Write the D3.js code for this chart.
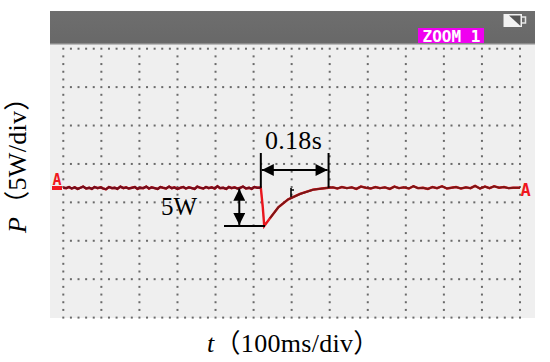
<!DOCTYPE html>
<html><head><meta charset="utf-8">
<script src="https://cdn.jsdelivr.net/npm/d3@7"></script>
<style>html,body{margin:0;padding:0;background:#fff}svg{display:block}text{font-family:"Liberation Serif","Times New Roman",serif;fill:#000}</style>
</head><body><div id="c"></div>
<script>
const xTicksMs = [0,100,200,300,400,500,600,700,800,900,1000,1100,1200];
const yTicksW = [0,5,10,15,20,25,30,35];
const timeMs = [0,8,15,22,30,38,45,52,60,68,75,82,90,98,105,112,120,128,135,142,150,158,165,172,180,188,195,202,210,218,225,232,240,248,255,262,270,278,285,292,300,308,315,322,330,338,345,352,360,368,375,382,390,398,405,412,420,428,435,442,450,458,465,472,480,488,495,502,510,519,524,528,543,565,591,622,656,680,697,708,720,732,745,758,770,782,795,808,820,832,845,858,870,882,895,908,920,932,945,958,970,982,995,1008,1020,1032,1045,1058,1070,1082,1095,1108,1120,1132,1145,1158,1170,1182,1200];
const powerW = [16.9,16.85,17,16.8,16.95,16.75,16.9,17.05,16.8,16.9,16.75,17,16.85,16.95,16.8,16.7,17,16.85,16.9,16.75,17.05,16.85,16.95,16.8,16.9,17,16.75,16.9,16.85,17.05,16.8,16.95,16.85,16.75,17,16.9,16.8,17.05,16.85,16.95,16.75,16.9,17,16.8,16.95,16.85,16.75,17.05,16.9,16.8,17,16.85,16.95,16.8,17.1,16.85,16.9,16.75,17,16.85,16.95,16.8,16.9,17.05,16.8,16.9,16.75,17,16.9,16.9,14.44,11.93,12.93,14.36,15.4,16.09,16.65,16.8,16.9,16.95,16.8,17,16.85,16.95,16.75,17.05,16.9,16.8,17,16.85,16.95,16.75,17.05,16.85,16.95,16.8,17.1,16.85,16.9,16.75,17,16.85,17.1,16.8,16.9,17,16.8,16.95,16.85,17.15,16.8,17.05,16.85,17.1,16.9,17,16.85,16.9,16.9];
const headerLabel = "ZOOM 1";
const xAxisParts = ["t","（100ms/div）"];
const yAxisParts = ["P","（5W/div）"];
const deltaLabel = "0.18s";
const stepLabel = "5W";
const dipStart = 519, dipEnd = 697, basePower = 16.9, dipLow = 11.93;

const W=550,H=362;
const x=d3.scaleLinear().domain([0,1200]).range([63.3,520]);
const y=d3.scaleLinear().domain([0,35]).range([317.6,48.7]);
const svg=d3.select("#c").append("svg").attr("width",W).attr("height",H);
const defs=svg.append("defs");
const g=defs.append("linearGradient").attr("id","hdr").attr("x1",0).attr("y1",0).attr("x2",0).attr("y2",1);
g.append("stop").attr("offset",0).attr("stop-color","#6e6e6e");
g.append("stop").attr("offset",1).attr("stop-color","#686868");
defs.append("filter").attr("id","soft").append("feGaussianBlur").attr("stdDeviation",0.45);
const mk=defs.append("marker").attr("id","ah").attr("viewBox","0 0 10 10").attr("refX",10).attr("refY",5)
 .attr("markerUnits","userSpaceOnUse").attr("markerWidth",16).attr("markerHeight",12).attr("orient","auto-start-reverse");
mk.append("path").attr("d","M0,0L10,5L0,10Z").attr("fill","#000");

svg.append("rect").attr("x",50).attr("y",44).attr("width",485).attr("height",274).attr("fill","#efefef");
svg.append("rect").attr("x",50).attr("y",11).attr("width",485).attr("height",33).attr("fill","url(#hdr)");
svg.append("rect").attr("x",50).attr("y",43).attr("width",485).attr("height",1.5).attr("fill","#8a8a8a");

// grid dots
const minorX=d3.range(0,60.5,1).map(i=>i*20), minorY=d3.range(0,35.5,1);
const dots=[];
yTicksW.forEach(v=>minorX.forEach(t=>dots.push([t,v])));
xTicksMs.forEach(t=>minorY.forEach(v=>{ if(!yTicksW.includes(v)) dots.push([t,v]); }));
svg.append("g").attr("filter","url(#soft)").selectAll("rect").data(dots).join("rect")
 .attr("x",d=>x(d[0])-1).attr("y",d=>y(d[1])-1).attr("width",2).attr("height",2).attr("fill","#6a6a6a");

// trace
const line=d3.line().x((d,i)=>x(timeMs[i])).y(d=>y(d));
const tr=svg.append("g").attr("filter","url(#soft)").attr("fill","none");
tr.append("path").attr("d",line(powerW)).attr("stroke","#e8141c").attr("stroke-width",2.4);
const darkLine=d3.line().x(i=>x(timeMs[i])).y(i=>y(powerW[i]));
const idx=powerW.map((d,i)=>i);
tr.append("path").attr("d",darkLine(idx.filter(i=>timeMs[i]<=519))).attr("stroke","#76101a").attr("stroke-width",2.3);
tr.append("path").attr("d",darkLine(idx.filter(i=>timeMs[i]>=543))).attr("stroke","#7d1418").attr("stroke-width",2);

// header widgets
svg.append("rect").attr("x",418).attr("y",28).attr("width",66).attr("height",15).attr("fill","#f000f0");
svg.append("text").attr("x",451.5).attr("y",41.5).attr("text-anchor","middle").style("font-family","'DejaVu Sans Mono',monospace").style("font-weight","bold").style("font-size","16px").style("fill","#fff").text(headerLabel);
const bat=svg.append("g").attr("filter","url(#soft)");
bat.append("rect").attr("x",503.5).attr("y",14).attr("width",18.5).attr("height",13).attr("fill","#f2f2f2");
bat.append("path").attr("d","M509,15.5L520.5,15.5L520.5,26Z").attr("fill","#555");
bat.append("path").attr("d","M522,17H525.5V23H522").attr("fill","none").attr("stroke","#e6e6e6").attr("stroke-width",1.5);

// A markers
const mono=s=>s.style("font-family","'DejaVu Sans Mono',monospace").style("font-weight","bold").style("fill","#f01820");
mono(svg.append("text").attr("x",57).attr("y",184.5).attr("text-anchor","middle").style("font-size","15px").text("A"));
svg.append("rect").attr("x",52).attr("y",186).attr("width",10).attr("height",4).attr("fill","#f01820");
mono(svg.append("text").attr("x",525.5).attr("y",196).attr("text-anchor","middle").style("font-size","17px").text("A"));

// annotations
const ann=svg.append("g").attr("stroke","#000").attr("stroke-width",2).attr("fill","none");
ann.append("line").attr("x1",x(dipStart)).attr("x2",x(dipStart)).attr("y1",153).attr("y2",y(basePower));
ann.append("line").attr("x1",x(dipEnd)).attr("x2",x(dipEnd)).attr("y1",153).attr("y2",y(basePower));
ann.append("line").attr("x1",x(dipStart)+1).attr("x2",x(dipEnd)-1).attr("y1",170).attr("y2",170).attr("marker-start","url(#ah)").attr("marker-end","url(#ah)");
ann.append("line").attr("x1",224).attr("x2",265).attr("y1",y(dipLow)).attr("y2",y(dipLow));
ann.append("line").attr("x1",239.3).attr("x2",239.3).attr("y1",y(basePower)+1).attr("y2",y(dipLow)-1).attr("marker-start","url(#ah)").attr("marker-end","url(#ah)");
ann.append("path").attr("d","M291,188V197M291,190H294").attr("stroke-width",1.6);

svg.append("text").attr("x",293.5).attr("y",149).attr("text-anchor","middle").style("font-size","26px").style("letter-spacing","0.3px").text(deltaLabel);
svg.append("text").attr("x",161).attr("y",215).style("font-size","25px").text(stepLabel);

const xl=svg.append("text").attr("x",207).attr("y",352).style("font-size","26px").style("letter-spacing","0.3px");
xl.append("tspan").style("font-style","italic").text(xAxisParts[0]);
xl.append("tspan").style("font-family","'Liberation Serif','Noto Sans CJK SC',serif").text(xAxisParts[1]);
const yl=svg.append("text").attr("transform","translate(26,233) rotate(-90)").style("font-size","26px").style("letter-spacing","0.3px");
yl.append("tspan").style("font-style","italic").text(yAxisParts[0]);
yl.append("tspan").style("font-family","'Liberation Serif','Noto Sans CJK SC',serif").text(yAxisParts[1]);
</script></body></html>
